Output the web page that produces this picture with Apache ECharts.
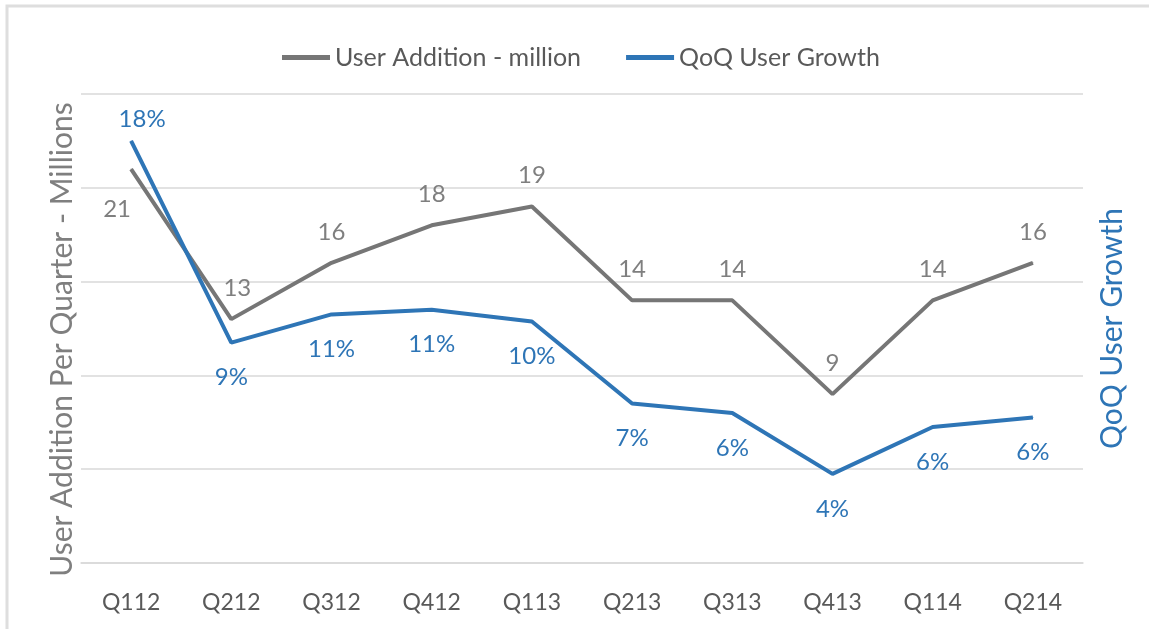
<!DOCTYPE html>
<html>
<head>
<meta charset="utf-8">
<script src="https://cdn.jsdelivr.net/npm/echarts@6/dist/echarts.min.js"></script>
<style>
  html, body { margin: 0; padding: 0; background: #fff; }
  #chart { width: 1149px; height: 629px; }
</style>
</head>
<body>
<div id="chart"></div>
<script>
// quarters on the x axis
const quarters = ['Q112', 'Q212', 'Q312', 'Q412', 'Q113', 'Q213', 'Q313', 'Q413', 'Q114', 'Q214'];
// user additions per quarter, millions
const userAdditions = [21, 13, 16, 18, 19, 14, 14, 9, 14, 16];
// quarter on quarter user growth, percent
const qoqGrowth = [18.0, 9.4, 10.6, 10.8, 10.3, 6.8, 6.4, 3.8, 5.8, 6.2];

const GRAY = '#767676';
const GRAY_TEXT = '#7f7f7f';
const BLUE = '#2e75b6';
const FONT = 'Lato';

const chart = echarts.init(document.getElementById('chart'));

// label tweaks
const grayData = userAdditions.map((v, i) => {
    if (i === 0) return { value: v, label: { offset: [-14, 40] } };
    if (i === 1) return { value: v, label: { offset: [6, -31] } };
    return v;
});
const blueData = qoqGrowth.map((v, i) => {
    if (i === 0) return { value: v, label: { offset: [11, -22] } };
    return v;
});

chart.setOption({
    backgroundColor: '#fff',
    animation: false,
    graphic: [{
        type: 'rect',
        shape: { x: 7, y: 6, width: 1160, height: 640 },
        style: { fill: 'none', stroke: '#dedede', lineWidth: 3 },
        silent: true
    }],
    legend: {
        top: 40,
        left: 277,
        itemWidth: 48,
        itemHeight: 5,
        itemGap: 45,
        icon: 'rect',
        textStyle: { fontFamily: FONT, fontSize: 25, color: '#595959' },
        data: ['User Addition - million', 'QoQ User Growth']
    },
    grid: { left: 81, right: 66, top: 94, bottom: 66 },
    xAxis: {
        type: 'category',
        data: quarters,
        boundaryGap: true,
        axisLine: { show: true, lineStyle: { color: '#d9d9d9', width: 1.5 } },
        axisTick: { show: false },
        axisLabel: { fontFamily: FONT, fontSize: 23, color: '#595959', margin: 28 }
    },
    yAxis: [{
        type: 'value',
        min: 0, max: 25, interval: 5,
        name: 'User Addition Per Quarter - Millions',
        nameLocation: 'middle',
        nameGap: 4,
        nameTextStyle: { fontFamily: FONT, fontSize: 30, color: GRAY_TEXT, padding: [0, 22, 0, 0] },
        axisLine: { show: false },
        axisTick: { show: false },
        axisLabel: { show: false },
        splitLine: { lineStyle: { color: '#d9d9d9', width: 1.5 } }
    }, {
        type: 'value',
        min: 0, max: 20, interval: 4,
        name: 'QoQ User Growth',
        nameLocation: 'middle',
        nameGap: 14,
        nameTextStyle: { fontFamily: FONT, fontSize: 30, color: BLUE },
        axisLine: { show: false },
        axisTick: { show: false },
        axisLabel: { show: false },
        splitLine: { show: false }
    }],
    series: [{
        name: 'User Addition - million',
        type: 'line',
        yAxisIndex: 0,
        data: grayData,
        symbol: 'circle',
        symbolSize: 1,
        color: GRAY,
        lineStyle: { width: 4, color: GRAY },
        label: {
            show: true,
            position: 'inside',
            offset: [0, -31],
            fontFamily: FONT,
            fontSize: 24,
            color: GRAY_TEXT
        }
    }, {
        name: 'QoQ User Growth',
        type: 'line',
        yAxisIndex: 1,
        data: blueData,
        symbol: 'circle',
        symbolSize: 1,
        color: BLUE,
        lineStyle: { width: 4, color: BLUE },
        label: {
            show: true,
            position: 'inside',
            offset: [0, 35],
            fontFamily: FONT,
            fontSize: 24,
            color: BLUE,
            formatter: p => Math.round(p.value) + '%'
        }
    }]
});
</script>
</body>
</html>
